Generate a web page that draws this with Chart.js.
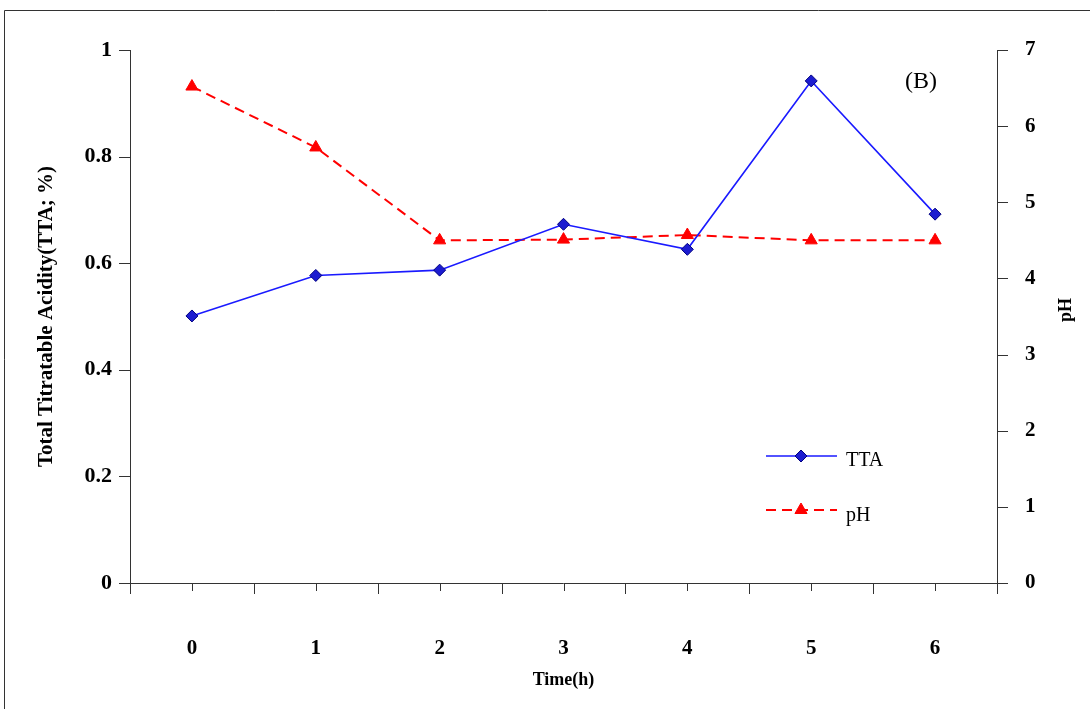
<!DOCTYPE html>
<html>
<head>
<meta charset="utf-8">
<script src="https://cdn.jsdelivr.net/npm/chart.js@4.4.1/dist/chart.umd.min.js"></script>
<style>
  html, body { margin: 0; padding: 0; background: #fff; }
  #wrap { width: 1090px; height: 709px; position: relative; }
</style>
</head>
<body>
<div id="wrap"><canvas id="myChart" width="1090" height="709"></canvas></div>
<script>
let timeLabels = ["0", "1", "2", "3", "4", "5", "6"];
let ttaValues = [0.501, 0.577, 0.587, 0.673, 0.626, 0.942, 0.692];
let phValues = [6.52, 5.72, 4.5, 4.51, 4.57, 4.5, 4.5];
let ttaTicks = [0, 0.2, 0.4, 0.6, 0.8, 1];
let phTicks = [0, 1, 2, 3, 4, 5, 6, 7];

const serif = "'Liberation Serif', 'DejaVu Serif', serif";
const axisColor = "#333";

// axis lines, tick marks, right title, legend and panel label
const decorations = {
  id: "decorations",
  afterDraw(chart) {
    const ctx = chart.ctx;
    const area = chart.chartArea;
    const x = chart.scales.x;
    const y = chart.scales.y;
    const y2 = chart.scales.y2;

    ctx.save();
    ctx.strokeStyle = axisColor;
    ctx.lineWidth = 1;

    // frame around the figure
    ctx.beginPath();
    ctx.moveTo(4.5, 709);
    ctx.lineTo(4.5, 10.5);
    ctx.lineTo(1090, 10.5);
    ctx.stroke();

    // axis lines
    ctx.beginPath();
    ctx.moveTo(area.left + 0.5, area.top);
    ctx.lineTo(area.left + 0.5, area.bottom + 11);
    ctx.moveTo(area.right + 0.5, area.top);
    ctx.lineTo(area.right + 0.5, area.bottom + 11);
    ctx.moveTo(area.left - 11, area.bottom + 0.5);
    ctx.lineTo(area.right + 11, area.bottom + 0.5);
    ctx.stroke();

    // y tick marks
    ctx.beginPath();
    ttaTicks.forEach(v => {
      const py = Math.round(y.getPixelForValue(v)) + 0.5;
      ctx.moveTo(area.left - 11, py);
      ctx.lineTo(area.left, py);
    });
    phTicks.forEach(v => {
      const py = Math.round(y2.getPixelForValue(v)) + 0.5;
      ctx.moveTo(area.right, py);
      ctx.lineTo(area.right + 11, py);
    });

    // x tick marks: long at category edges, short at centres
    const step = (area.right - area.left) / timeLabels.length;
    for (let i = 0; i <= timeLabels.length; i++) {
      const px = Math.round(area.left + i * step) + 0.5;
      ctx.moveTo(px, area.bottom);
      ctx.lineTo(px, area.bottom + 11);
    }
    timeLabels.forEach((l, i) => {
      const px = Math.round(x.getPixelForValue(i)) + 0.5;
      ctx.moveTo(px, area.bottom);
      ctx.lineTo(px, area.bottom + 8);
    });
    ctx.stroke();

    // right axis title, reading bottom to top
    ctx.fillStyle = "#000";
    ctx.font = "bold 18px " + serif;
    ctx.textAlign = "center";
    ctx.textBaseline = "middle";
    ctx.save();
    ctx.translate(1066, 310);
    ctx.rotate(-Math.PI / 2);
    ctx.fillText("pH", 0, 0);
    ctx.restore();

    // panel label
    ctx.font = "24px " + serif;
    ctx.textAlign = "left";
    ctx.fillText("(B)", 905, 82);

    // legend
    const ds = chart.data.datasets;
    const rows = [
      { d: ds[0], y: 456, ty: 461 },
      { d: ds[1], y: 510, ty: 516 },
    ];
    rows.forEach(r => {
      ctx.save();
      ctx.strokeStyle = r.d.borderColor;
      ctx.lineWidth = r.d.borderWidth;
      ctx.setLineDash(r.d.borderDash || []);
      ctx.beginPath();
      ctx.moveTo(766, r.y);
      ctx.lineTo(837, r.y);
      ctx.stroke();
      ctx.setLineDash([]);
      ctx.fillStyle = r.d.pointBackgroundColor;
      ctx.strokeStyle = r.d.pointBorderColor;
      ctx.lineWidth = 1;
      Chart.helpers.drawPoint(ctx, {
        pointStyle: r.d.pointStyle,
        radius: r.d.pointRadius,
        rotation: 0,
        borderWidth: 1,
      }, 801, r.y);
      ctx.restore();
      ctx.fillStyle = "#000";
      ctx.font = "20px " + serif;
      ctx.textAlign = "left";
      ctx.textBaseline = "middle";
      ctx.fillText(r.d.label, 846, r.ty);
    });

    ctx.restore();
  },
};

const ctx = document.getElementById("myChart");

new Chart(ctx, {
  type: "line",
  data: {
    labels: timeLabels,
    datasets: [
      {
        label: "TTA",
        data: ttaValues,
        yAxisID: "y",
        borderColor: "#1a1aff",
        borderWidth: 1.6,
        pointStyle: "rectRot",
        pointRadius: 6,
        pointBackgroundColor: "#1c1cd0",
        pointBorderColor: "#000080",
        pointBorderWidth: 1,
        tension: 0,
      },
      {
        label: "pH",
        data: phValues,
        yAxisID: "y2",
        borderColor: "#ff0000",
        borderWidth: 2,
        borderDash: [10, 6],
        pointStyle: "triangle",
        pointRadius: 7,
        pointBackgroundColor: "#ff0000",
        pointBorderColor: "#ff0000",
        pointBorderWidth: 1,
        tension: 0,
      },
    ],
  },
  options: {
    responsive: false,
    animation: false,
    layout: {
      padding: { top: 50, left: 0, right: 0, bottom: 0 },
    },
    plugins: {
      legend: { display: false },
      tooltip: { enabled: false },
    },
    scales: {
      x: {
        type: "category",
        offset: true,
        grid: { display: false },
        border: { display: false },
        ticks: {
          color: "#000",
          font: { family: serif, size: 21, weight: "bold" },
          padding: 45,
          maxRotation: 0,
        },
        title: {
          display: true,
          text: "Time(h)",
          color: "#000",
          font: { family: serif, size: 18, weight: "bold" },
          padding: { top: 0, bottom: 18 },
        },
        afterFit(scale) {
          scale.height = 126;
        },
      },
      y: {
        position: "left",
        min: 0,
        max: 1,
        grid: { display: false },
        border: { display: false },
        afterBuildTicks(scale) {
          scale.ticks = ttaTicks.map(v => ({ value: v }));
        },
        ticks: {
          color: "#000",
          font: { family: serif, size: 22, weight: "bold" },
          padding: 10,
          callback: v => String(v),
        },
        title: {
          display: true,
          text: "Total Titratable Acidity(TTA; %)",
          color: "#000",
          font: { family: serif, size: 21, weight: "bold" },
          padding: { top: 34, bottom: 0 },
        },
        afterFit(scale) {
          scale.width = 130;
        },
      },
      y2: {
        position: "right",
        min: 0,
        max: 7,
        grid: { display: false },
        border: { display: false },
        afterBuildTicks(scale) {
          scale.ticks = phTicks.map(v => ({ value: v }));
        },
        ticks: {
          color: "#000",
          font: { family: serif, size: 21, weight: "bold" },
          padding: 20,
          callback: v => String(v),
        },
        afterFit(scale) {
          scale.width = 93;
        },
      },
    },
  },
  plugins: [decorations],
});
</script>
</body>
</html>
